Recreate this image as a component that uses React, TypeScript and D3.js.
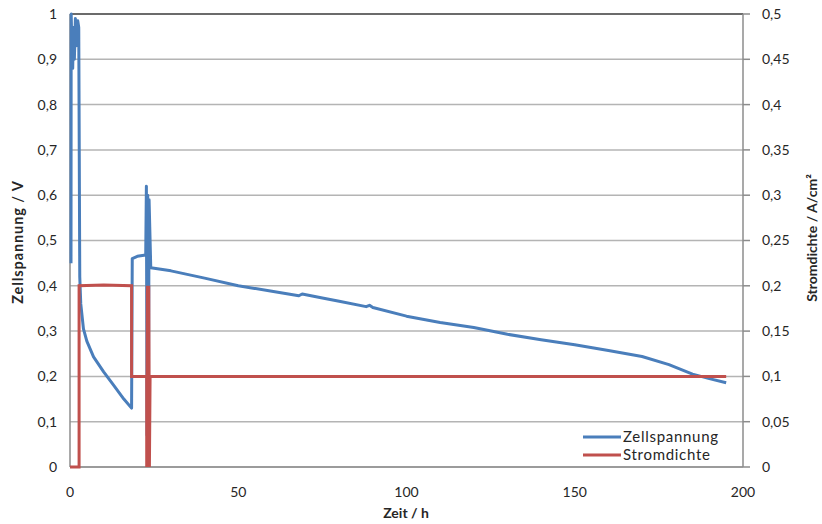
import React from "react";
import * as d3 from "d3";

// Zellspannung (V) over time (h)
const voltageTime = [
  0.3, 0.35, 0.5, 0.8, 1.0, 1.3, 1.6, 1.9, 2.3, 2.6, 2.9, 3.2, 4, 5, 7, 10, 13, 16, 18.3,
  18.5, 20, 22.5, 22.7, 22.9, 23.1, 23.3, 23.5, 24, 30, 40, 50, 60, 68, 69, 75, 80, 88, 89,
  90, 100, 110, 120, 130, 140, 150, 160, 170, 178, 185, 190, 195,
];
const voltageValue = [
  0.45, 1.0, 0.95, 0.88, 0.97, 0.9, 0.99, 0.93, 0.985, 0.97, 0.42, 0.36, 0.305, 0.278, 0.243,
  0.21, 0.18, 0.15, 0.13, 0.46, 0.465, 0.468, 0.62, 0.07, 0.6, 0.1, 0.59, 0.44, 0.433, 0.417,
  0.4, 0.388, 0.378, 0.382, 0.373, 0.366, 0.354, 0.357, 0.352, 0.333, 0.319, 0.308, 0.293,
  0.281, 0.27, 0.257, 0.244, 0.226, 0.205, 0.195, 0.186,
];

// Stromdichte (A/cm²) over time (h)
const currentTime = [0, 2.7, 2.7, 10, 18.3, 18.3, 22.8, 22.8, 23.0, 23.2, 23.4, 23.6, 23.8, 195];
const currentValue = [0, 0, 0.2, 0.201, 0.2, 0.1, 0.1, 0, 0.2, 0, 0.2, 0, 0.1, 0.1];

const xTicks = [0, 50, 100, 150, 200];
const yLeftTicks = [0, 0.1, 0.2, 0.3, 0.4, 0.5, 0.6, 0.7, 0.8, 0.9, 1];
const yRightTicks = [0, 0.05, 0.1, 0.15, 0.2, 0.25, 0.3, 0.35, 0.4, 0.45, 0.5];

const seriesNames = ["Zellspannung", "Stromdichte"];
const seriesColors = ["#4a7ebb", "#c0504d"];

const W = 822;
const H = 524;
const plot = { left: 70, right: 743, top: 14, bottom: 467 };
const font = "Lato, 'Open Sans', sans-serif";
const textColor = "#262626";

const fmt = (v: number) => String(v).replace(".", ",");

export default function App() {
  const x = d3.scaleLinear().domain([0, 200]).range([plot.left, plot.right]);
  const yL = d3.scaleLinear().domain([0, 1]).range([plot.bottom, plot.top]);
  const yR = d3.scaleLinear().domain([0, 0.5]).range([plot.bottom, plot.top]);

  const voltage = voltageTime.map((t, i) => [t, voltageValue[i]] as [number, number]);
  const current = currentTime.map((t, i) => [t, currentValue[i]] as [number, number]);

  const voltLine = d3
    .line<[number, number]>()
    .x((d) => x(d[0]))
    .y((d) => yL(d[1]))
    .curve(d3.curveLinear);
  const currLine = d3
    .line<[number, number]>()
    .x((d) => x(d[0]))
    .y((d) => yR(d[1]));

  return (
    <svg
      width={W}
      height={H}
      style={{ position: "absolute", left: 0, top: 0, background: "#fff" }}
      fontFamily={font}
    >
      {/* horizontal gridlines */}
      {yLeftTicks.map((v) => (
        <line
          key={"g" + v}
          x1={plot.left}
          x2={plot.right}
          y1={yL(v)}
          y2={yL(v)}
          stroke={v === 1 ? "#3a3a3a" : "#b4b4b4"}
          strokeWidth={1.5}
        />
      ))}
      {/* axes */}
      <line x1={plot.left} x2={plot.left} y1={plot.top} y2={plot.bottom} stroke="#8c8c8c" strokeWidth={1.5} />
      <line x1={plot.right} x2={plot.right} y1={plot.top} y2={plot.bottom} stroke="#8c8c8c" strokeWidth={1.5} />
      <line x1={plot.left} x2={plot.right} y1={plot.bottom} y2={plot.bottom} stroke="#8c8c8c" strokeWidth={1.5} />
      {yRightTicks.map((v) => (
        <line key={"rt" + v} x1={plot.right} x2={plot.right + 7} y1={yR(v)} y2={yR(v)} stroke="#8c8c8c" strokeWidth={1.5} />
      ))}

      {/* tick labels */}
      {yLeftTicks.map((v) => (
        <text key={"yl" + v} x={57} y={yL(v)} dy="0.35em" textAnchor="end" fontSize={14} fill={textColor}>
          {fmt(v)}
        </text>
      ))}
      {yRightTicks.map((v) => (
        <text key={"yr" + v} x={762} y={yR(v)} dy="0.35em" textAnchor="start" fontSize={14} fill={textColor}>
          {fmt(v)}
        </text>
      ))}
      {xTicks.map((v) => (
        <text key={"x" + v} x={x(v)} y={492} dy="0.35em" textAnchor="middle" fontSize={14} fill={textColor}>
          {v}
        </text>
      ))}

      {/* axis titles */}
      <text x={406} y={513} dy="0.35em" textAnchor="middle" fontSize={14} fontWeight="bold" fill={textColor}>
        Zeit / h
      </text>
      <text
        transform={`translate(18,242) rotate(-90)`}
        dy="0.35em"
        textAnchor="middle"
        fontSize={14.5}
        letterSpacing={0.9}
        fontWeight="bold"
        fill={textColor}
      >
        Zellspannung / V
      </text>
      <text
        transform={`translate(812,238) rotate(-90)`}
        dy="0.35em"
        textAnchor="middle"
        fontSize={14}
        fontWeight="bold"
        fill={textColor}
      >
        Stromdichte / A/cm²
      </text>

      {/* series */}
      <path d={voltLine(voltage) ?? ""} fill="none" stroke={seriesColors[0]} strokeWidth={3} strokeLinejoin="round" />
      <path d={currLine(current) ?? ""} fill="none" stroke={seriesColors[1]} strokeWidth={3} strokeLinejoin="miter" />

      {/* legend */}
      {seriesNames.map((name, i) => (
        <g key={name} transform={`translate(583,${437 + i * 18})`}>
          <line x1={0} x2={38} y1={0} y2={0} stroke={seriesColors[i]} strokeWidth={3} />
          <text x={40} y={0} dy="0.35em" fontSize={15} letterSpacing={0.7} fill={textColor}>
            {name}
          </text>
        </g>
      ))}
    </svg>
  );
}
